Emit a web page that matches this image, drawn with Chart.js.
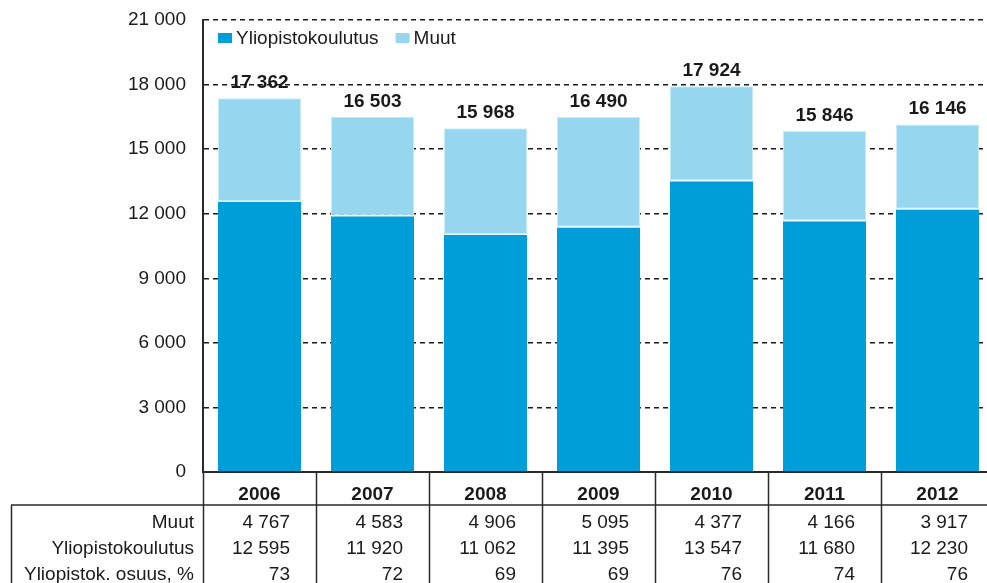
<!DOCTYPE html>
<html>
<head>
<meta charset="utf-8">
<script src="https://cdn.jsdelivr.net/npm/chart.js@4"></script>
<style>
  html, body { margin: 0; padding: 0; overflow: hidden; background: #fff; }
  #wrap { position: absolute; left: 0; top: 0; width: 994px; height: 583px; }
</style>
</head>
<body>
<div id="wrap"><canvas id="myChart"></canvas></div>
<script>
const years = ["2006", "2007", "2008", "2009", "2010", "2011", "2012"];
const muut = [4767, 4583, 4906, 5095, 4377, 4166, 3917];
const yliopisto = [12595, 11920, 11062, 11395, 13547, 11680, 12230];
const totals = [17362, 16503, 15968, 16490, 17924, 15846, 16146];
const osuus = [73, 72, 69, 69, 76, 74, 76];
const yTicks = [0, 3000, 6000, 9000, 12000, 15000, 18000, 21000];

const FONT = "'Liberation Sans', Arial, sans-serif";
const TEXT = "#1a1a1a";
const LINE = "#2a2a2a";

function fmt(n) {
    return String(n).replace(/\B(?=(\d{3})+(?!\d))/g, " ");
}

// legend inside the plot, one row
const legendRow = {
    id: "legendRow",
    afterDatasetsDraw(chart) {
        const ctx = chart.ctx;
        const area = chart.chartArea;
        let lx = area.left + 15;
        const ly = area.top + 19;
        ctx.save();
        ctx.font = "19px " + FONT;
        ctx.textBaseline = "middle";
        ctx.textAlign = "left";
        chart.data.datasets.forEach((ds) => {
            ctx.fillStyle = ds.backgroundColor;
            ctx.fillRect(lx, ly - 6, 14, 10);
            ctx.fillStyle = TEXT;
            ctx.fillText(ds.label, lx + 18, ly);
            lx += 18 + ctx.measureText(ds.label).width + 17;
        });
        ctx.restore();
    },
};

// totals above the bars
const totalLabels = {
    id: "totalLabels",
    afterDatasetsDraw(chart) {
        const ctx = chart.ctx;
        const meta = chart.getDatasetMeta(1);
        ctx.save();
        ctx.font = "bold 19px " + FONT;
        ctx.fillStyle = TEXT;
        ctx.textAlign = "center";
        ctx.textBaseline = "alphabetic";
        meta.data.forEach((bar, i) => {
            ctx.fillText(fmt(totals[i]), bar.x, bar.y - 10);
        });
        ctx.restore();
    },
};

// data table under the x axis
const dataTable = {
    id: "dataTable",
    afterDraw(chart) {
        const ctx = chart.ctx;
        const x = chart.scales.x;
        const area = chart.chartArea;
        const colW = x.getPixelForValue(1) - x.getPixelForValue(0);
        const headY = area.bottom + 33;

        ctx.save();
        ctx.strokeStyle = LINE;
        ctx.lineWidth = 1.5;
        ctx.beginPath();
        ctx.moveTo(11, headY);
        ctx.lineTo(chart.width, headY);
        ctx.moveTo(11.5, headY);
        ctx.lineTo(11.5, chart.height);
        ctx.stroke();

        ctx.fillStyle = TEXT;
        ctx.textBaseline = "middle";

        ctx.font = "bold 19px " + FONT;
        ctx.textAlign = "center";
        years.forEach((y, i) => {
            ctx.fillText(y, x.getPixelForValue(i), area.bottom + 23);
        });

        const rows = [
            ["Muut", muut],
            ["Yliopistokoulutus", yliopisto],
            ["Yliopistok. osuus, %", osuus],
        ];
        ctx.font = "19px " + FONT;
        rows.forEach((row, r) => {
            const ry = headY + 18 + r * 26;
            ctx.textAlign = "right";
            ctx.fillText(row[0], area.left - 9, ry);
            row[1].forEach((v, i) => {
                ctx.fillText(fmt(v), x.getPixelForValue(i) + colW / 2 - 26, ry);
            });
        });
        ctx.restore();
    },
};

new Chart(document.getElementById("myChart"), {
    type: "bar",
    data: {
        labels: years,
        datasets: [
            {
                label: "Yliopistokoulutus",
                data: yliopisto,
                backgroundColor: "#009ed9",
                borderColor: "#e6f5fb",
                borderWidth: { top: 1, left: 0, right: 0, bottom: 0 },
                borderSkipped: false,
            },
            {
                label: "Muut",
                data: muut,
                backgroundColor: "#97d6ef",
                borderColor: "#c8ebf8",
                borderWidth: 1,
                borderSkipped: false,
            },
        ],
    },
    options: {
        responsive: true,
        maintainAspectRatio: false,
        animation: false,
        barPercentage: 0.735,
        categoryPercentage: 1,
        layout: { padding: { top: 20, left: 0, right: 0, bottom: 0 } },
        scales: {
            x: {
                stacked: true,
                offset: true,
                afterFit: (scale) => { scale.height = 111; },
                ticks: { display: false },
                grid: {
                    offset: true,
                    drawOnChartArea: false,
                    drawTicks: true,
                    tickLength: 111,
                    tickColor: LINE,
                    tickWidth: 1.5,
                    color: LINE,
                },
                border: { display: true, color: LINE, width: 2 },
            },
            y: {
                stacked: true,
                min: 0,
                max: 21000,
                afterFit: (scale) => {
                    scale.width = 203;
                    scale.paddingTop = 0;
                    scale.paddingBottom = 0;
                },
                afterBuildTicks: (scale) => {
                    scale.ticks = yTicks.map((v) => ({ value: v }));
                },
                ticks: {
                    padding: 17,
                    color: TEXT,
                    font: { family: FONT, size: 19 },
                    callback: (v) => fmt(v),
                },
                grid: {
                    drawTicks: false,
                    color: "#1a1a1a",
                    lineWidth: 1.5,
                },
                border: { display: true, color: LINE, width: 2, dash: [5, 4] },
            },
        },
        plugins: {
            legend: { display: false },
            tooltip: { enabled: false },
        },
    },
    plugins: [legendRow, totalLabels, dataTable],
});
</script>
</body>
</html>
